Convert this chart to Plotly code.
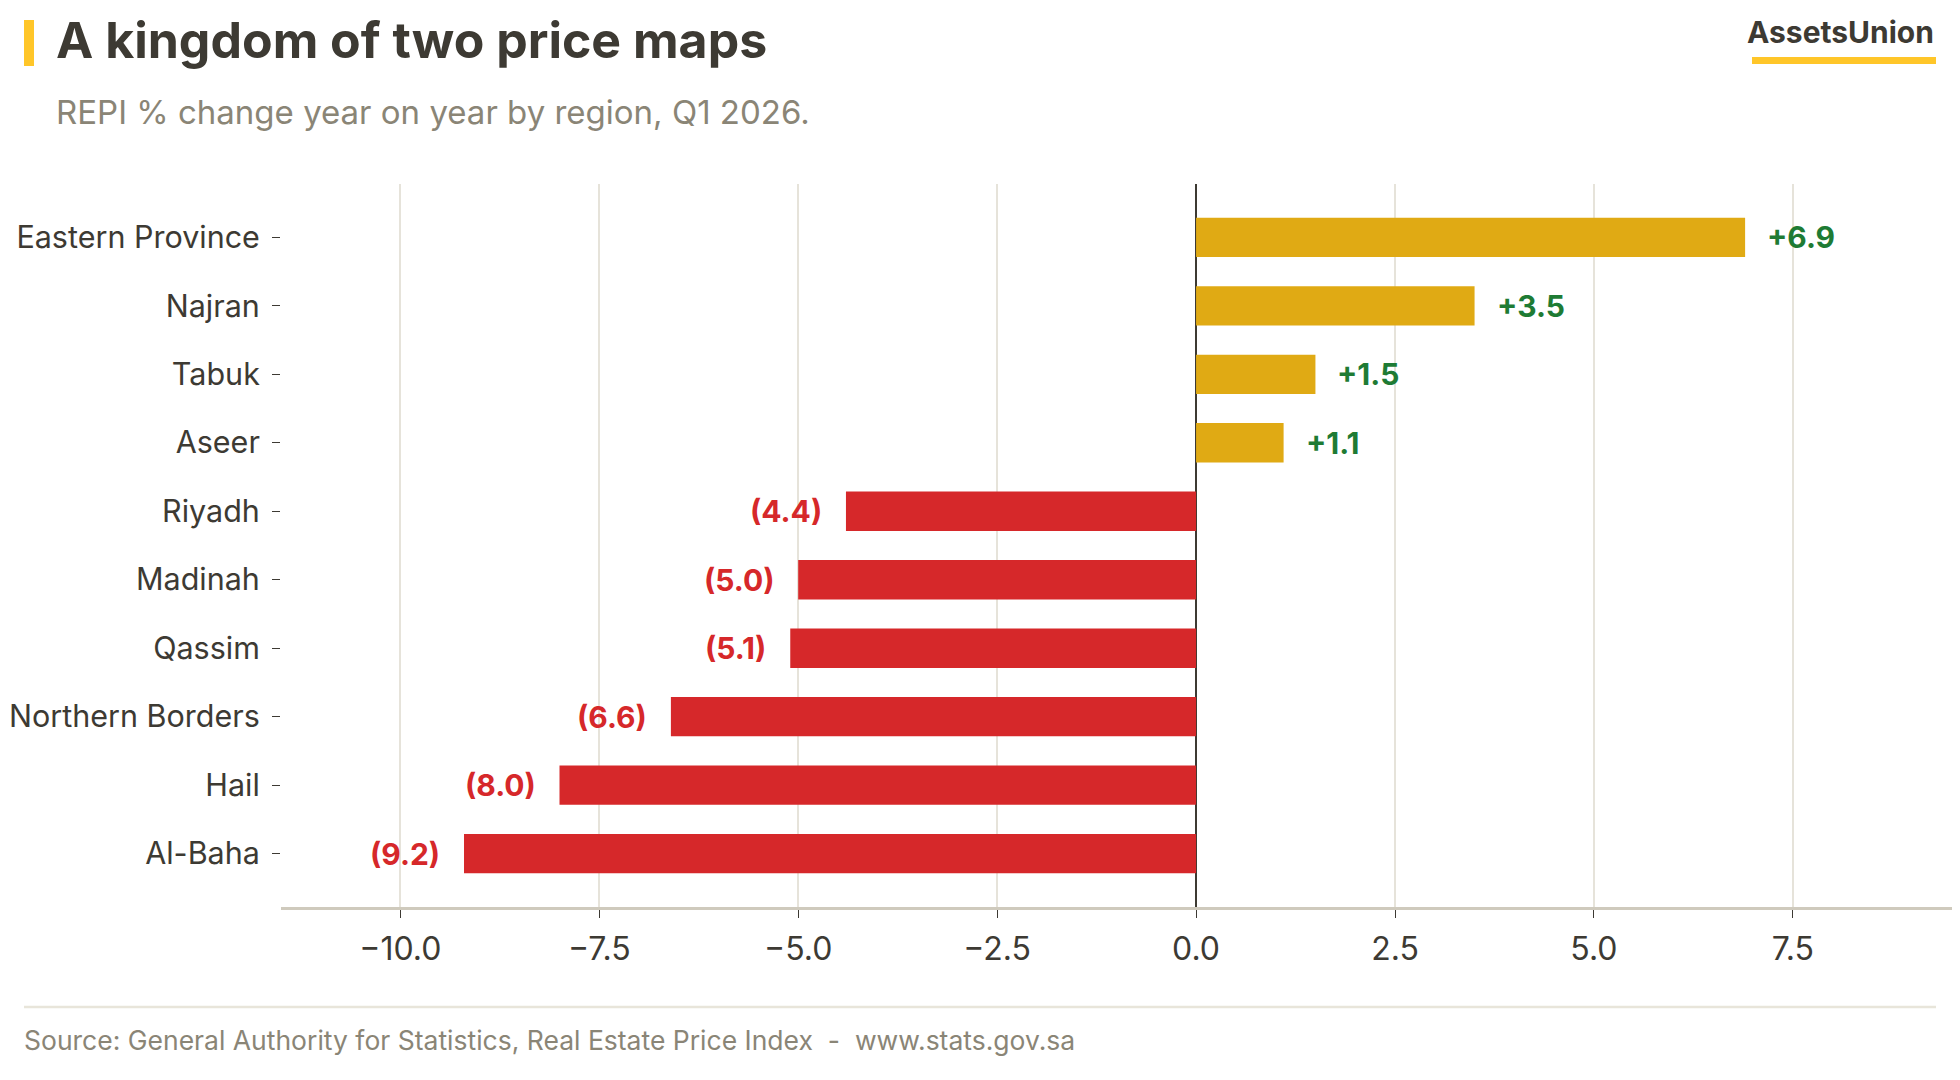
import plotly.graph_objects as go

regions = ["Al-Baha", "Hail", "Northern Borders", "Qassim", "Madinah",
           "Riyadh", "Aseer", "Tabuk", "Najran", "Eastern Province"]
values = [-9.2, -8.0, -6.6, -5.1, -5.0, -4.4, 1.1, 1.5, 3.5, 6.9]
x_ticks = [-10.0, -7.5, -5.0, -2.5, 0.0, 2.5, 5.0, 7.5]
x_tick_labels = ["\u221210.0", "\u22127.5", "\u22125.0", "\u22122.5", "0.0", "2.5", "5.0", "7.5"]

POS = "#E0AA14"
NEG = "#D6282A"
POS_TXT = "#1E7B34"
DARK = "#3D3A33"
MUTED = "#8A8576"
FONT = "Inter"

colors = [POS if v >= 0 else NEG for v in values]

fig = go.Figure()
fig.add_trace(go.Bar(
    x=values, y=regions, orientation="h",
    marker=dict(color=colors, line=dict(width=0)),
    hoverinfo="skip", showlegend=False,
))

def fmt(v):
    return f"+{v:.1f}" if v >= 0 else f"({abs(v):.1f})"

for r, v in zip(regions, values):
    fig.add_annotation(
        x=v, y=r, xref="x", yref="y", text=f"<b>{fmt(v)}</b>", showarrow=False,
        xanchor="left" if v >= 0 else "right", xshift=20 if v >= 0 else -22,
        font=dict(family=FONT, size=30, color=POS_TXT if v >= 0 else NEG),
    )

W, H = 1960, 1080
ml, mr, mt, mb = 281, 8, 184, 173
pw, ph = W - ml - mr, H - mt - mb

def px(xp):
    return (xp - ml) / pw

def py(yp):
    return (H - mb - yp) / ph

# Header
fig.add_shape(type="rect", xref="paper", yref="paper",
              x0=px(24), x1=px(34), y0=py(66), y1=py(20),
              fillcolor="#FFC629", line=dict(width=0))
fig.add_annotation(xref="paper", yref="paper", x=px(54), y=py(40), xanchor="left", yanchor="middle",
                   text="<b>A kingdom of two price maps</b>", showarrow=False,
                   font=dict(family=FONT, size=50, color=DARK))
fig.add_annotation(xref="paper", yref="paper", x=px(54), y=py(112), xanchor="left", yanchor="middle",
                   text="REPI % change year on year by region, Q1 2026.", showarrow=False,
                   font=dict(family=FONT, size=33, color=MUTED))
fig.add_annotation(xref="paper", yref="paper", x=px(1936), y=py(32), xanchor="right", yanchor="middle",
                   text="<b>AssetsUnion</b>", showarrow=False,
                   font=dict(family=FONT, size=30, color=DARK))
fig.add_shape(type="rect", xref="paper", yref="paper",
              x0=px(1752), x1=px(1936), y0=py(64), y1=py(57),
              fillcolor="#FFC629", line=dict(width=0))
# Footer
fig.add_shape(type="line", xref="paper", yref="paper",
              x0=px(24), x1=px(1936), y0=py(1007), y1=py(1007),
              line=dict(color="#E8E5DA", width=2.5))
fig.add_annotation(xref="paper", yref="paper", x=px(22), y=py(1040), xanchor="left", yanchor="middle",
                   text="Source: General Authority for Statistics, Real Estate Price Index  -  www.stats.gov.sa",
                   showarrow=False, font=dict(family=FONT, size=26.5, color=MUTED))

fig.update_layout(
    width=W, height=H,
    margin=dict(l=ml, r=mr, t=mt, b=mb, pad=0),
    paper_bgcolor="white", plot_bgcolor="white",
    bargap=0.425,
    font=dict(family=FONT, color=DARK),
    xaxis=dict(
        range=[-11.5, 9.5], tickvals=x_ticks, ticktext=x_tick_labels,
        showgrid=True, gridcolor="#E6E3DA", gridwidth=1.5,
        zeroline=True, zerolinecolor=DARK, zerolinewidth=2,
        showline=True, linecolor="#CFCABD", linewidth=2.5,
        ticks="outside", ticklen=8, tickcolor=DARK, tickwidth=1,
        tickfont=dict(family=FONT, size=32, color=DARK),
        ticklabelstandoff=4,
        layer="above traces", fixedrange=True,
    ),
    yaxis=dict(
        range=[-0.78, 9.78], showgrid=False, zeroline=False, showline=False,
        ticks="outside", ticklen=8, tickcolor=DARK, tickwidth=1,
        tickfont=dict(family=FONT, size=30.5, color=DARK),
        ticklabelstandoff=6,
        fixedrange=True,
    ),
)

fig.write_html("out.html")
